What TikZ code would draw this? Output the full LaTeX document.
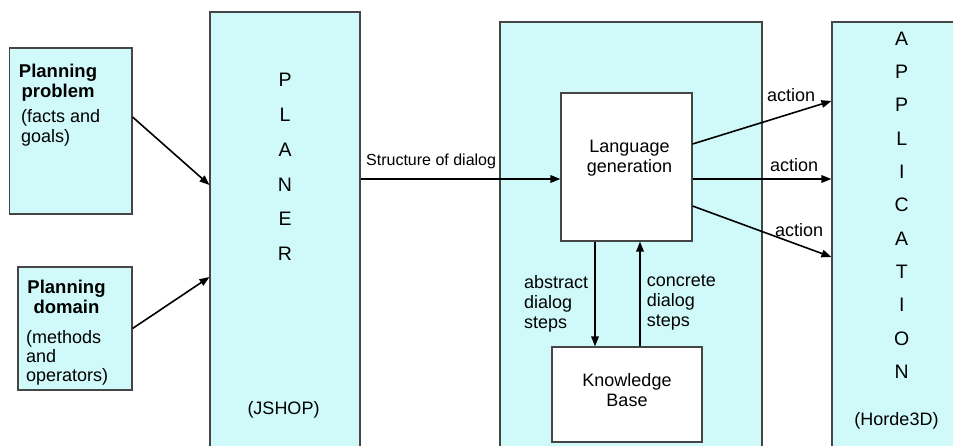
\documentclass[tikz,border=0pt]{standalone}
\usepackage{fontspec}
\setmainfont{Liberation Sans}
\usetikzlibrary{arrows.meta}
\definecolor{paneFill}{RGB}{208,250,250}
\definecolor{paneLine}{RGB}{70,70,70}
\tikzset{
  pane/.style={draw=paneLine, fill=paneFill, line width=1.1pt, rectangle, inner sep=0pt},
  whitebox/.style={pane, fill=white},
  flow/.style={line width=1.6pt, -{Triangle[length=10pt,width=7.5pt]}},
  txt/.style={inner sep=0pt, font=\fontsize{18}{20}\selectfont},
  boldtxt/.style={inner sep=0pt, font=\bfseries\fontsize{18.5}{20}\selectfont, align=center, anchor=north},
  smalltxt/.style={inner sep=0pt, font=\fontsize{16}{18}\selectfont},
  spelled/.style={inner sep=0pt, align=center, anchor=north, font=\fontsize{19.5}{#1}\selectfont},
}
\begin{document}
\begin{tikzpicture}[x=1pt,y=-1pt]
  \useasboundingbox (0,0) rectangle (953,445);
  \clip (0,0) rectangle (953,445);
  \fill[white] (0,0) rectangle (953,445);

  % input boxes
  \node[pane, minimum width=122.5pt, minimum height=166pt] (prob) at (70.75,131) {};
  \node[pane, minimum width=114pt, minimum height=123pt] (dom) at (75,328.5) {};

  % planner, dialog manager and application columns
  \node[pane, minimum width=150pt, minimum height=448pt] (planer) at (285,236) {};
  \node[pane, minimum width=262pt, minimum height=438pt] (mid) at (631,241) {};
  \node[pane, minimum width=143pt, minimum height=438pt] (app) at (903.5,241) {};

  % inner white boxes
  \node[whitebox, minimum width=131pt, minimum height=148pt] (lang) at (626.5,167) {};
  \node[whitebox, minimum width=150pt, minimum height=95pt] (kb) at (627,394.5) {};

  % texts of the input boxes
  \node[boldtxt] (probT) at (58,64) {Planning\\problem};
  \node[txt, align=left, anchor=north west] (probD) at (21,109.5) {(facts and\\goals)};
  \node[boldtxt] (domT) at (66.5,280) {Planning\\domain};
  \node[txt, align=left, anchor=north west, font=\fontsize{18}{19}\selectfont] (domD) at (26,330) {(methods\\and\\operators)};

  % vertical captions
  \node[spelled=34.7] (planerT) at (285,73.3) {P\\L\\A\\N\\E\\R};
  \node[txt] (jshop) at (283.5,410) {(JSHOP)};
  \node[spelled=33.3] (appT) at (901.7,31.7) {A\\P\\P\\L\\I\\C\\A\\T\\I\\O\\N};
  \node[txt] (horde) at (896.5,421) {(Horde3D)};

  % texts of the inner boxes
  \node[txt, align=center, anchor=north] (langT) at (629.5,139.5) {Language\\generation};
  \node[txt, align=center, anchor=north] (kbT) at (627,373) {Knowledge\\Base};

  % connectors
  \draw[flow] ([yshift=14pt]prob.east) -- ([yshift=51pt]planer.west);
  \draw[flow] (dom.east) -- ([yshift=-41pt]planer.west);
  \draw[flow] ([yshift=57pt]planer.east) -- ([yshift=-12pt]lang.west);
  \draw[flow] ([xshift=-31.5pt]lang.south) -- ([xshift=-32pt]kb.north);
  \draw[flow] ([xshift=13pt]kb.north) -- ([xshift=13.5pt]lang.south);
  \draw[flow] ([yshift=23pt]lang.east) -- ([yshift=140pt]app.west);
  \draw[flow] ([yshift=-12pt]lang.east) -- ([yshift=62pt]app.west);
  \draw[flow] ([yshift=-39pt]lang.east) -- ([yshift=-16pt]app.west);

  % connector labels
  \node[smalltxt, anchor=base west] (sod) at (366,165) {Structure of dialog};
  \node[txt, align=left, anchor=north west] (abs) at (524,275) {abstract\\dialog\\steps};
  \node[txt, align=left, anchor=north west] (con) at (646.7,275) {concrete\\dialog\\steps};
  \node[txt, anchor=base west] (act1) at (767,101.5) {action};
  \node[txt, anchor=base west] (act2) at (770,171.5) {action};
  \node[txt, anchor=base west] (act3) at (775,236.5) {action};
\end{tikzpicture}
\end{document}
